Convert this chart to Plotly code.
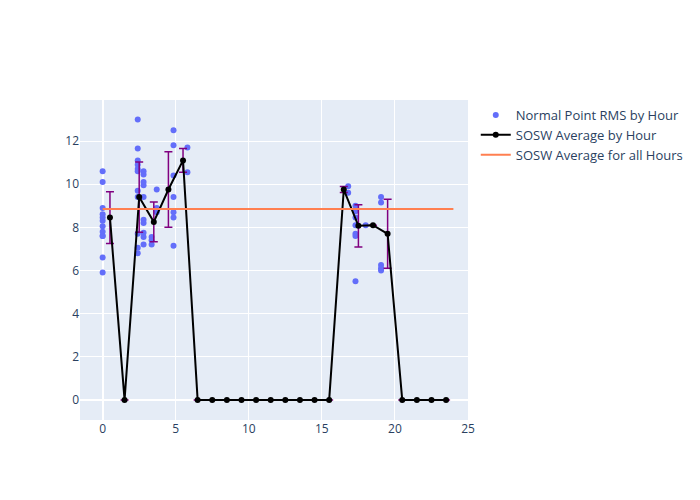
import plotly.graph_objects as go

# Normal point RMS by (fractional) hour
pt_hour = [0.0, 0.0, 0.0, 0.0, 0.0, 0.0, 0.0, 0.0, 0.0, 0.0, 0.0, 0.0,
           2.4, 2.4, 2.4, 2.4, 2.4, 2.4, 2.4, 2.4, 2.4, 2.4, 2.4,
           2.8, 2.8, 2.8, 2.8, 2.8, 2.8, 2.8, 2.8, 2.8, 2.8,
           3.35, 3.35, 3.35, 3.7, 3.7, 3.7,
           4.85, 4.85, 4.85, 4.85, 4.85, 4.85, 4.85,
           5.8, 5.8,
           16.8, 16.8,
           17.3, 17.3, 17.3, 17.3, 17.3, 17.3, 17.3,
           18.0,
           19.05, 19.05, 19.05, 19.05, 19.05]
pt_rms = [10.6, 10.1, 8.9, 8.6, 8.45, 8.3, 8.05, 7.8, 7.6, 7.6, 6.6, 5.9,
          13.0, 11.65, 11.1, 10.9, 10.7, 10.6, 9.7, 9.4, 7.7, 7.05, 6.8,
          10.6, 10.45, 10.1, 9.95, 9.4, 8.35, 8.2, 7.75, 7.55, 7.2,
          7.55, 7.4, 7.2, 9.75, 8.9, 8.7,
          12.5, 11.8, 10.4, 9.4, 8.7, 8.45, 7.15,
          11.7, 10.55,
          9.9, 9.6,
          9.0, 8.75, 8.45, 8.1, 7.7, 7.6, 5.5,
          8.1,
          9.4, 9.15, 6.25, 6.1, 6.0]

# SOSW average by hour (plotted at hour + 0.5)
avg_hour = [0.5, 1.5, 2.5, 3.5, 4.5, 5.5, 6.5, 7.5, 8.5, 9.5, 10.5, 11.5,
            12.5, 13.5, 14.5, 15.5, 16.5, 17.5, 18.5, 19.5, 20.5, 21.5, 22.5, 23.5]
avg_val = [8.45, 0, 9.4, 8.25, 9.75, 11.1, 0, 0, 0, 0, 0, 0,
           0, 0, 0, 0, 9.75, 8.07, 8.1, 7.7, 0, 0, 0, 0]
avg_err = [1.2, 0, 1.63, 0.92, 1.75, 0.55, 0, 0, 0, 0, 0, 0,
           0, 0, 0, 0, 0.14, 0.98, 0, 1.6, 0, 0, 0, 0]

overall_x = [0, 24]
overall_y = [8.85, 8.85]

fig = go.Figure()
fig.add_trace(go.Scatter(
    x=pt_hour, y=pt_rms, mode="markers", name="Normal Point RMS by Hour",
    marker=dict(color="#636EFA", size=6)))
fig.add_trace(go.Scatter(
    x=avg_hour, y=avg_val, mode="lines+markers", name="SOSW Average by Hour",
    line=dict(color="black", width=2), marker=dict(color="black", size=6),
    error_y=dict(type="data", array=avg_err, visible=True, color="purple",
                 thickness=1.5, width=4)))
fig.add_trace(go.Scatter(
    x=overall_x, y=overall_y, mode="lines", name="SOSW Average for all Hours",
    line=dict(color="#FF7F50", width=2)))

fig.update_layout(
    width=700, height=500,
    legend=dict(font=dict(size=13)),
    xaxis=dict(range=[-1.55, 25.0], tickvals=[0, 5, 10, 15, 20, 25]),
    yaxis=dict(range=[-0.93, 13.9], tickvals=[0, 2, 4, 6, 8, 10, 12]),
)
fig.write_html("out.html")
